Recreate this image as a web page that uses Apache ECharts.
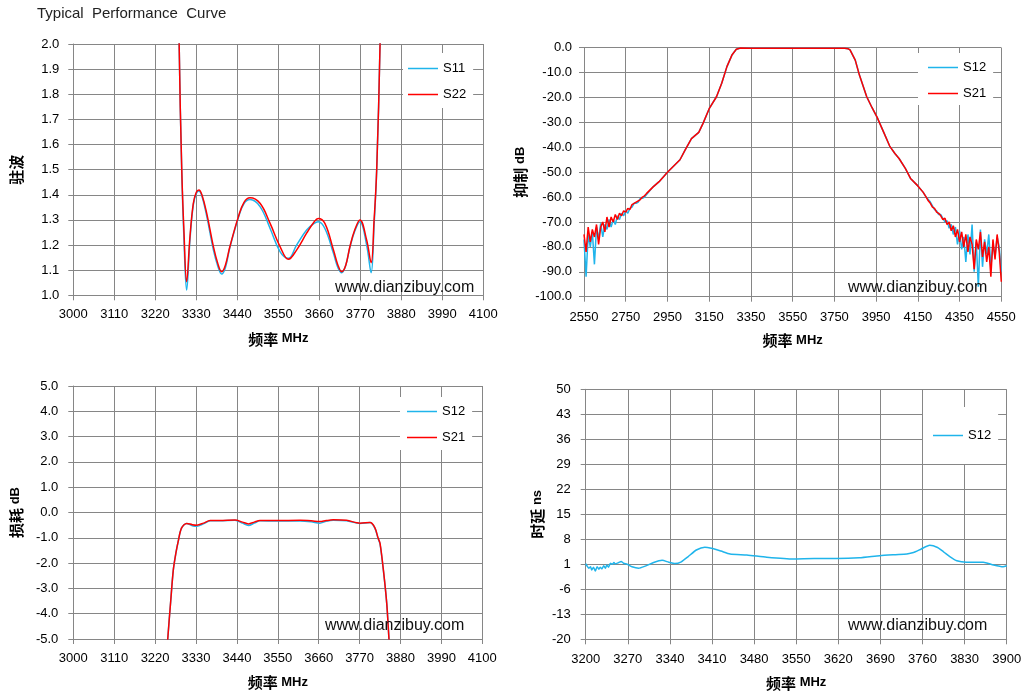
<!DOCTYPE html>
<html><head><meta charset="utf-8">
<script src="https://cdn.jsdelivr.net/npm/echarts/dist/echarts.min.js"></script>
<style>html,body{margin:0;padding:0;background:#fff}#c{width:1030px;height:700px}</style>
</head><body><div id="c"></div>
<script>
// ---------- Chart 1: VSWR ----------
const vswrFreq = [3280,3284,3291,3297,3304,3313,3322,3330,3337,3345,3358,3376,3388,3398,3408,3420,3443,3458,3474,3501,3528,3555,3577,3599,3626,3645,3657,3675,3698,3710,3720,3731,3742,3755,3769,3787,3799,3807,3814,3823,3828];
const vswrS11 = [2.6,2.0,1.49,1.22,1.021,1.22,1.36,1.405,1.415,1.395,1.315,1.18,1.115,1.085,1.11,1.19,1.31,1.365,1.381,1.353,1.266,1.173,1.147,1.2,1.26,1.285,1.293,1.266,1.167,1.11,1.09,1.12,1.19,1.255,1.293,1.2,1.09,1.28,1.5,2.0,2.5];
const vswrS22 = [2.6,2.0,1.5,1.25,1.054,1.233,1.366,1.41,1.419,1.40,1.326,1.193,1.125,1.094,1.12,1.193,1.313,1.37,1.388,1.366,1.286,1.193,1.143,1.18,1.247,1.29,1.306,1.286,1.18,1.12,1.094,1.12,1.193,1.26,1.30,1.22,1.13,1.30,1.5,2.0,2.5];

// ---------- Chart 2: Rejection ----------
const rejFreqLow = [2550,2560,2570,2580,2590,2600,2610,2620,2630,2640,2650,2660,2670,2680,2690,2700,2710,2720,2730,2740,2750,2760,2770,2780,2790,2800,2810,2820,2830,2840,2850];
const rejS12Low = [-77,-92,-75,-80,-74,-87,-72,-77,-70.5,-76,-71,-73,-69,-72,-69,-71,-67.5,-69,-66.5,-67.5,-65.5,-66.5,-64.5,-64,-62.5,-62.5,-62,-60.5,-60.5,-60,-59];
const rejS21Low = [-75,-82,-72,-78,-73,-76,-71,-79,-72,-70,-74,-68,-72,-68,-70,-67,-69,-66.5,-67.5,-65.5,-66,-64.5,-65,-63,-62.5,-62,-61.5,-61,-60,-59.5,-58.5];
const rejFreqMid = [2880,2910,2950,2980,3010,3035,3065,3100,3120,3150,3185,3210,3235,3260,3280,3300,3350,3450,3550,3650,3750,3800,3815,3825,3850,3870,3905,3930,3955,3985,4015,4040,4060,4090,4115,4150,4175,4190];
const rejMid = [-56,-53.8,-50,-47.5,-45,-41,-36.5,-34,-30.5,-24.5,-19.7,-14.3,-7.6,-2.8,-0.6,-0.1,-0.2,-0.2,-0.2,-0.2,-0.2,-0.2,-0.4,-0.9,-5,-11,-19.7,-24,-28,-33.7,-39.5,-42.5,-44.5,-48.5,-52.5,-55.5,-58,-60];
const rejFreqHigh = [4200,4210,4220,4230,4240,4250,4260,4270,4280,4290,4300,4310,4320,4330,4340,4350,4360,4370,4380,4390,4400,4410,4420,4430,4440,4450,4460,4470,4480,4490,4500,4510,4520,4530,4540,4550];
const rejS12High = [-61,-62,-63.5,-65,-65.5,-67,-67,-68.5,-70,-69.5,-72.5,-71,-75,-72,-79,-73.5,-81,-76,-86,-75,-83,-71,-90,-78,-96,-73,-88,-77,-83,-75,-88,-79,-84,-76,-80,-90];
const rejS21High = [-61.5,-62.5,-64,-64.5,-66,-66.5,-67.5,-69,-68.5,-71,-70,-73.5,-71.5,-76,-73,-78,-74,-80,-75,-82,-76,-79,-89,-77,-81,-74,-84,-78,-86,-80,-92,-77,-85,-75,-82,-94];

// ---------- Chart 3: Insertion loss ----------
const ilFreq = [3245,3254,3262,3269,3276,3282,3291,3305,3320,3332,3350,3368,3394,3435,3455,3471,3487,3502,3547,3610,3640,3663,3680,3699,3735,3771,3798,3811,3820,3825,3834,3843,3849,3858];
const ilS12 = [-7,-5,-3.5,-2.27,-1.6,-1.15,-0.62,-0.43,-0.52,-0.54,-0.45,-0.33,-0.33,-0.31,-0.42,-0.51,-0.42,-0.33,-0.34,-0.34,-0.37,-0.42,-0.35,-0.31,-0.33,-0.43,-0.4,-0.62,-1.04,-1.25,-2.3,-3.6,-5,-7];
const ilS21 = [-7,-5,-3.5,-2.27,-1.6,-1.15,-0.62,-0.43,-0.48,-0.5,-0.42,-0.32,-0.32,-0.3,-0.38,-0.45,-0.38,-0.32,-0.32,-0.31,-0.33,-0.36,-0.32,-0.29,-0.31,-0.42,-0.4,-0.6,-1.02,-1.22,-2.27,-3.59,-5,-7];

// ---------- Chart 4: Group delay ----------
const gdFreq = [3200,3202,3205,3208,3210,3213,3216,3219,3222,3224,3227,3230,3233,3235,3238,3241,3244,3247,3249,3255,3259,3263,3269,3277,3288,3299,3313,3327,3338,3348,3359,3370,3384,3398,3409,3425,3440,3468,3501,3545,3580,3617,3655,3689,3715,3734,3745,3758,3772,3785,3795,3806,3817,3833,3861,3878,3894,3900];
const gdS12 = [1.2,0.6,-0.1,0.3,-0.6,0.2,-0.9,0.3,-0.4,0.2,-0.3,0.6,-0.1,0.8,0.2,1.3,1.0,1.5,1.1,1.5,1.8,1.3,1.0,0.3,-0.1,0.5,1.5,2.1,1.6,1.2,1.7,3.1,5.0,5.8,5.5,4.7,3.9,3.6,3.0,2.5,2.6,2.6,2.8,3.4,3.7,3.9,4.3,5.3,6.3,5.7,4.5,3.1,2.0,1.6,1.6,0.8,0.3,0.6];

// axis ranges (min, max, step)
const ax1X = [3000,4100,110], ax1Y = [1.0,2.0,0.1];
const ax2X = [2550,4550,200], ax2Y = [-100,0,10];
const ax3X = [3000,4100,110], ax3Y = [-5,5,1];
const ax4X = [3200,3900,70],  ax4Y = [-20,50,7];

const GRIDC = '#868686';
const LAT = '"Liberation Sans", Arial, sans-serif';
const CJK = '"Noto Sans CJK SC", "Liberation Sans", sans-serif';
const BLUE = '#1FB4EB', RED = '#FF0000';

function pairs(fr, vals, xmin, yoff) {
  return fr.map((f, i) => [f - xmin, vals[i] + (yoff || 0)]);
}
function xAxis(gi, r, margin) {
  return {
    type: 'value', gridIndex: gi, min: 0, max: r[1] - r[0], interval: r[2],
    name: '{a|频率}{b| MHz}', nameLocation: 'middle', nameGap: 36,
    nameTextStyle: { rich: {
      a: { fontFamily: CJK, fontWeight: 'bold', fontSize: 15, color: '#000' },
      b: { fontFamily: LAT, fontWeight: 'bold', fontSize: 13, color: '#000' } } },
    axisLine: { show: true, onZero: false, lineStyle: { color: GRIDC, width: 1 } },
    axisTick: { show: true, inside: false, length: 5, lineStyle: { color: GRIDC } },
    axisLabel: { show: true, margin: margin, color: '#000', fontSize: 13, fontFamily: LAT,
      showMinLabel: true, showMaxLabel: true, hideOverlap: false,
      formatter: v => String(Math.round(v + r[0])) },
    splitLine: { show: true, lineStyle: { color: GRIDC, width: 1 } }
  };
}
function yAxis(gi, r, name, gap, margin, fmt, off) {
  return {
    type: 'value', gridIndex: gi, min: r[0] + off, max: r[1] + off, interval: r[2],
    name: name, nameLocation: 'middle', nameGap: gap, nameRotate: 90,
    nameTextStyle: { rich: {
      a: { fontFamily: CJK, fontWeight: 'bold', fontSize: 15, color: '#000' },
      b: { fontFamily: LAT, fontWeight: 'bold', fontSize: 13, color: '#000' } } },
    axisLine: { show: true, onZero: false, lineStyle: { color: GRIDC, width: 1 } },
    axisTick: { show: true, inside: false, length: 5, lineStyle: { color: GRIDC } },
    axisLabel: { show: true, margin: margin, color: '#000', fontSize: 13, fontFamily: LAT,
      showMinLabel: true, showMaxLabel: true, hideOverlap: false,
      formatter: v => fmt(v - off) },
    splitLine: { show: true, lineStyle: { color: GRIDC, width: 1 } }
  };
}
function line(name, gi, data, color, smooth) {
  return { type: 'line', name: name, xAxisIndex: gi, yAxisIndex: gi, data: data,
    symbol: 'none', showSymbol: false, smooth: smooth, clip: true,
    lineStyle: { color: color, width: 1.5 }, itemStyle: { color: color },
    animation: false, silent: true };
}
function legend(names, left, top, padding) {
  return { orient: 'vertical', left: left, top: top, padding: padding,
    icon: 'path://M0,0H40V2H0Z',
    itemWidth: 30, itemHeight: 14, itemGap: 13,
    backgroundColor: '#fff', selectedMode: false, data: names,
    textStyle: { fontSize: 13, color: '#000', fontFamily: LAT } };
}
function mark(x, y) {
  return { type: 'text', left: x, top: y, z: 100,
    style: { text: 'www.dianzibuy.com', font: '16px "Liberation Sans", Arial, sans-serif', fill: '#111' } };
}
const f1 = v => v.toFixed(1);
const fi = v => String(Math.round(v));

const option = {
  animation: false,
  backgroundColor: '#fff',
  title: { text: 'Typical  Performance  Curve', left: 32, top: 1,
    textStyle: { fontSize: 15, fontWeight: 'normal', color: '#222', fontFamily: LAT } },
  grid: [
    { left: 73.3, top: 44, width: 410, height: 251.3 },
    { left: 584, top: 47.7, width: 417.3, height: 249 },
    { left: 73.3, top: 386, width: 409, height: 253 },
    { left: 585.7, top: 389.3, width: 421, height: 250 }
  ],
  xAxis: [ xAxis(0, ax1X, 13), xAxis(1, ax2X, 14), xAxis(2, ax3X, 13), xAxis(3, ax4X, 13.5) ],
  yAxis: [
    yAxis(0, ax1Y, '{a|驻波}', 50, 14, f1, 0),
    yAxis(1, ax2Y, '{a|抑制}{b| dB}', 56, 12, f1, 0),
    yAxis(2, ax3Y, '{a|损耗}{b| dB}', 50, 15, f1, 0),
    yAxis(3, ax4Y, '{a|时延}{b| ns}', 41, 15, fi, 20)
  ],
  legend: [
    legend(['S11', 'S22'], 403, 53, [9, 7, 7, 5]),
    legend(['S12', 'S21'], 918, 53, [8, 7, 5, 10]),
    legend(['S12', 'S21'], 400, 397, [8, 7, 6, 7]),
    legend(['S12'], 923, 407, [22, 7, 22, 10])
  ],
  graphic: [ mark(335, 280), mark(848, 280), mark(325, 618), mark(848, 618) ],
  series: [
    line('S11', 0, pairs(vswrFreq, vswrS11, ax1X[0]), BLUE, 0.4),
    line('S22', 0, pairs(vswrFreq, vswrS22, ax1X[0]), RED, 0.4),
    line('S12', 1, pairs(rejFreqLow, rejS12Low, ax2X[0]).concat(pairs(rejFreqMid, rejMid, ax2X[0]), pairs(rejFreqHigh, rejS12High, ax2X[0])), BLUE, false),
    line('S21', 1, pairs(rejFreqLow, rejS21Low, ax2X[0]).concat(pairs(rejFreqMid, rejMid, ax2X[0]), pairs(rejFreqHigh, rejS21High, ax2X[0])), RED, false),
    line('S12', 2, pairs(ilFreq, ilS12, ax3X[0]), BLUE, 0.3),
    line('S21', 2, pairs(ilFreq, ilS21, ax3X[0]), RED, 0.3),
    line('S12', 3, pairs(gdFreq, gdS12, ax4X[0], 20), BLUE, 0.2)
  ]
};
const chart = echarts.init(document.getElementById('c'));
chart.setOption(option);
</script>
</body></html>
